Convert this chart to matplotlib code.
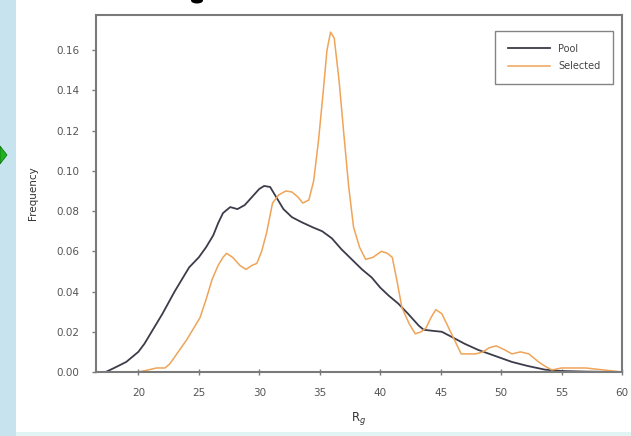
import matplotlib
matplotlib.use("Agg")
import matplotlib.pyplot as plt
from matplotlib.patches import Rectangle, Polygon, Ellipse

# Radius of gyration distributions
pool_rg = [17.3, 18, 19, 20, 20.5, 21, 22, 23, 23.5, 24.2, 25, 25.6, 26.2, 26.6, 27,
           27.6, 28.2, 28.8, 29.4, 30, 30.4, 30.9, 31.4, 32, 32.7, 33.5, 34.4, 35.2,
           36, 36.8, 37.7, 38.5, 39.3, 40, 40.7, 41.5, 42.3, 43.2, 43.6, 44.3, 45.1,
           45.9, 47, 48.1, 49.5, 50.9, 52.2, 53.6, 55, 57, 60]
pool_freq = [0.0, 0.002, 0.005, 0.010, 0.014, 0.019, 0.029, 0.040, 0.045, 0.052, 0.057,
             0.062, 0.068, 0.074, 0.079, 0.082, 0.081, 0.083, 0.087, 0.091, 0.0925,
             0.092, 0.087, 0.081, 0.077, 0.0745, 0.072, 0.070, 0.0665, 0.061, 0.0557,
             0.051, 0.047, 0.042, 0.038, 0.034, 0.029, 0.023, 0.021, 0.0205, 0.020,
             0.0175, 0.014, 0.011, 0.008, 0.005, 0.003, 0.0012, 0.0005, 0.0002, 0.0]

sel_rg = [17.5, 20, 20.8, 21.5, 22.2, 22.6, 23.3, 24, 24.6, 25.1, 25.6, 26.1, 26.6, 27,
          27.3, 27.8, 28.4, 28.9, 29.4, 29.8, 30.2, 30.6, 31.1, 31.6, 32.2, 32.7, 33.2,
          33.6, 34.1, 34.5, 34.9, 35.3, 35.6, 35.9, 36.2, 36.6, 37.0, 37.4, 37.8, 38.3,
          38.8, 39.4, 40.1, 40.6, 41.0, 41.4, 41.8, 42.4, 42.9, 43.4, 43.8, 44.2, 44.6,
          45.1, 45.5, 45.9, 46.3, 46.7, 47.3, 47.9, 48.5, 49, 49.6, 50.3, 50.9, 51.6,
          52.3, 52.7, 53.1, 53.6, 54.2, 55, 57, 60]
sel_freq = [0.0, 0.0, 0.001, 0.002, 0.002, 0.004, 0.010, 0.016, 0.022, 0.027, 0.036,
            0.046, 0.053, 0.057, 0.059, 0.057, 0.053, 0.051, 0.053, 0.054, 0.060, 0.069,
            0.084, 0.088, 0.090, 0.0895, 0.087, 0.084, 0.0855, 0.095, 0.115, 0.140,
            0.160, 0.169, 0.166, 0.145, 0.118, 0.092, 0.072, 0.062, 0.056, 0.057, 0.060,
            0.059, 0.057, 0.045, 0.032, 0.024, 0.019, 0.020, 0.022, 0.027, 0.031, 0.029,
            0.024, 0.019, 0.014, 0.009, 0.009, 0.009, 0.010, 0.012, 0.013, 0.011, 0.009,
            0.010, 0.009, 0.007, 0.005, 0.003, 0.001, 0.002, 0.002, 0.0]

x_ticks = [20, 25, 30, 35, 40, 45, 50, 55, 60]
y_ticks = [0.00, 0.02, 0.04, 0.06, 0.08, 0.10, 0.12, 0.14, 0.16]

W, H = 631, 436
fig = plt.figure(figsize=(W / 100, H / 100), dpi=100)
fig.patch.set_facecolor("white")

# slide edge decorations
fig.add_artist(Rectangle((0, 0), 16 / W, 1, transform=fig.transFigure,
                         facecolor="#c6e3ee", edgecolor="none", zorder=0))
fig.add_artist(Rectangle((16 / W, 0), 1, 4 / H, transform=fig.transFigure,
                         facecolor="#e2f5f5", edgecolor="none", zorder=0))
fig.add_artist(Polygon([(0 / W, 1 - 146 / H), (7 / W, 1 - 155 / H), (0 / W, 1 - 164 / H)],
                       closed=True, transform=fig.transFigure,
                       facecolor="#1fb31f", edgecolor="#0a6a0a", lw=0.5, zorder=1))
fig.add_artist(Ellipse((197 / W, 1 - 0.5 / H), 12 / W, 6 / H, transform=fig.transFigure,
                       facecolor="black", edgecolor="none", zorder=1))

ax = fig.add_axes([96 / W, 64 / H, (622 - 96) / W, (372 - 15) / H])
ax.plot(pool_rg, pool_freq, color="#3c3c4a", lw=1.3, label="Pool")
ax.plot(sel_rg, sel_freq, color="#efa458", lw=1.1, label="Selected")

ax.set_xlim(16.5, 60)
ax.set_ylim(0, 0.1775)
ax.set_xticks(x_ticks)
ax.set_xticklabels([str(v) for v in x_ticks])
ax.set_yticks(y_ticks)
ax.set_yticklabels([f"{v:.2f}" for v in y_ticks])

for s in ax.spines.values():
    s.set_color("#7a7a7a")
    s.set_linewidth(1.5)

ax.tick_params(axis="x", direction="inout", length=5, width=1, color="#7a7a7a",
               labelsize=7.5, labelcolor="#555555", pad=9)
ax.tick_params(axis="y", direction="out", length=3, width=1, color="#7a7a7a",
               labelsize=7.5, labelcolor="#555555", pad=9)

ax.set_ylabel("Frequency", fontsize=7.5, color="#333333", labelpad=13)
ax.set_xlabel("R$_g$", fontsize=8.5, color="#333333", labelpad=9)

leg = ax.legend(loc="upper right", bbox_to_anchor=(0.983, 0.955), fontsize=7,
                frameon=True, fancybox=False, handlelength=4.4, borderpad=1.3,
                labelspacing=0.8, handletextpad=0.8, borderaxespad=0.0)
leg.get_frame().set_edgecolor("#666666")
leg.get_frame().set_linewidth(1.0)
for t in leg.get_texts():
    t.set_color("#444444")

fig.savefig("out.png", dpi=100)
